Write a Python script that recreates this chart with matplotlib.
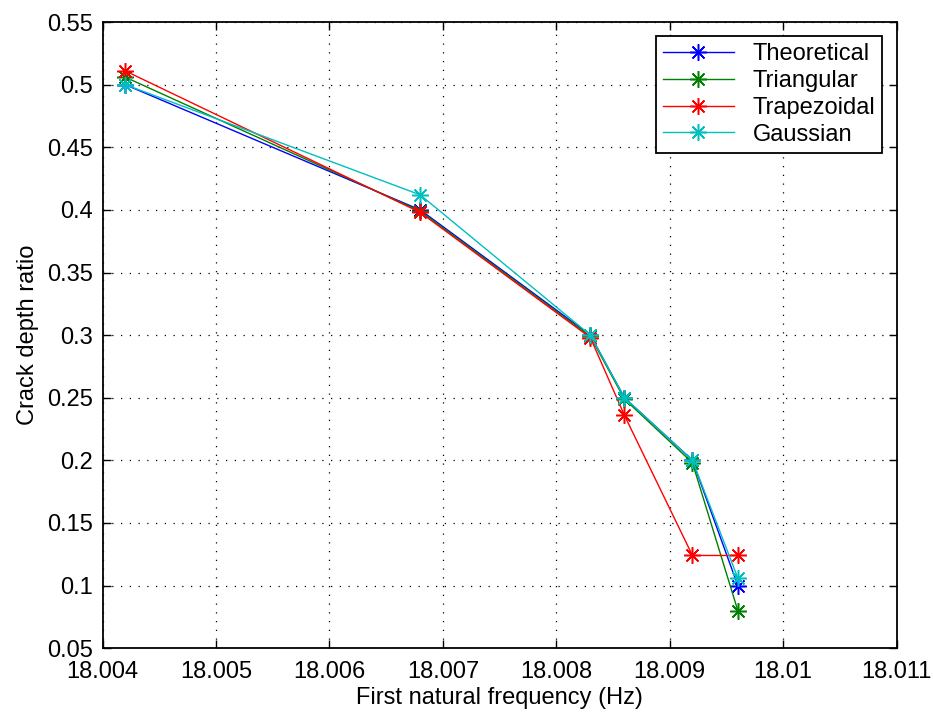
import matplotlib
matplotlib.use("Agg")
import matplotlib.pyplot as plt
from matplotlib.ticker import FuncFormatter, MultipleLocator

plt.rcParams['font.family'] = ['Liberation Sans', 'DejaVu Sans']

# first natural frequency (Hz) for each crack depth
freq = [18.0042, 18.0068, 18.0083, 18.0086, 18.0092, 18.0096]

theoretical = [0.500, 0.400, 0.300, 0.250, 0.200, 0.100]
triangular = [0.506, 0.399, 0.299, 0.249, 0.198, 0.080]
trapezoidal = [0.511, 0.398, 0.298, 0.236, 0.124, 0.124]
gaussian = [0.500, 0.412, 0.300, 0.250, 0.200, 0.106]

series = [
    ("Theoretical", theoretical, (0, 0, 1)),
    ("Triangular", triangular, (0, 0.5, 0)),
    ("Trapezoidal", trapezoidal, (1, 0, 0)),
    ("Gaussian", gaussian, (0, 0.75, 0.75)),
]

fig = plt.figure(figsize=(9.33, 7.13), dpi=100)
ax = fig.add_axes([0.110, 0.091, 0.851, 0.878])

# asterisk marker: 8 arms, like a '+' over an 'x'
star = (8, 2, 0)
for name, ys, col in series:
    ax.plot(freq, ys, color=col, lw=1.0, marker=star, markersize=12,
            markeredgewidth=1.1, label=name)

ax.set_xlim(18.004, 18.011)
ax.set_ylim(0.05, 0.55)
ax.xaxis.set_major_locator(MultipleLocator(0.001))
ax.yaxis.set_major_locator(MultipleLocator(0.05))
ax.xaxis.set_major_formatter(FuncFormatter(lambda v, p: f'{v:g}'))
ax.yaxis.set_major_formatter(FuncFormatter(lambda v, p: f'{round(v, 3):g}'))

ax.grid(True, color='k', linestyle=(0, (1, 6)), linewidth=0.9)
ax.tick_params(direction='in', top=True, right=True, length=6,
               width=1, labelsize=17)
ax.tick_params(axis='x', pad=9)
ax.tick_params(axis='y', pad=7)
for sp in ax.spines.values():
    sp.set_linewidth(1.3)

ax.set_xlabel('First natural frequency (Hz)', fontsize=17, labelpad=3)
ax.set_ylabel('Crack depth ratio', fontsize=17, labelpad=6)

leg = ax.legend(loc='upper right', fontsize=17, fancybox=False,
                framealpha=1, edgecolor='k', handlelength=3,
                borderaxespad=0.6, labelspacing=0.2, borderpad=0.3)
leg.get_frame().set_linewidth(1.3)

fig.savefig('out.png', dpi=100)
